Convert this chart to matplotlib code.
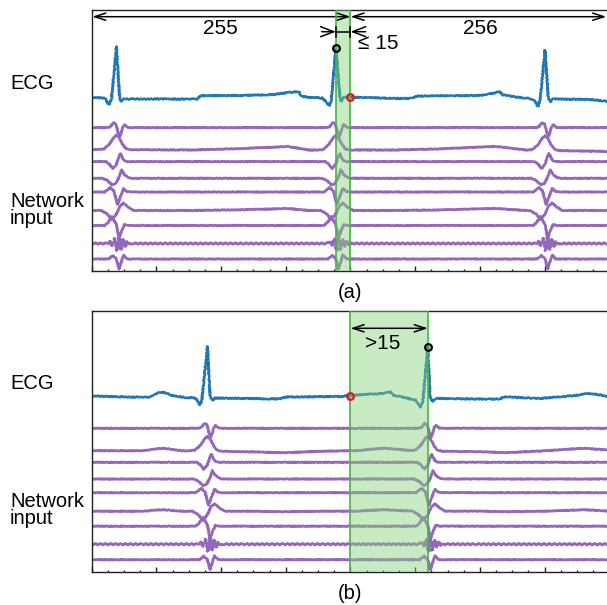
import numpy as np
import matplotlib.pyplot as plt
from matplotlib.ticker import MultipleLocator

plt.rcParams['font.family'] = ['Liberation Sans', 'DejaVu Sans']

# 512-sample window: 255 samples before the centre sample, 256 after
n_samples = 512
centre = 256

# ECG breakpoints (sample, amplitude)
ecg_a_x = [0, 13, 17, 19.5, 24.5, 27.5, 29, 32, 104, 108, 147, 181, 194, 205, 207, 216,
           228, 231, 235, 237, 241.5, 245.5, 246.5, 249.5, 305, 315, 323, 384, 399, 403, 407, 419,
           433.5, 438.5, 441.5, 443.5, 448.5, 451.5, 453.5, 456, 493, 512]
ecg_a_y = [173.5, 173, 166.3, 172, 224.5, 174, 169.7, 172, 172, 175.3, 175.5, 176.5, 178.5, 179.5, 175, 173.5,
           173, 170, 165, 171, 223, 175, 169.5, 174, 172.5, 172.5, 175, 175.5, 178, 179.5, 176, 174,
           172.5, 170, 164.5, 171, 221, 174, 169, 172, 171.5, 169.5]

ecg_b_x = [0, 38, 58, 62.5, 67.5, 72.5, 77.5, 92, 102, 105, 107, 109, 114.5, 117, 119, 122,
           186, 192, 245.5, 261.5, 290, 295.5, 298, 305, 320, 325.5, 327.7, 332.5, 334.6, 337, 340.5, 404,
           407, 419, 443.5, 483, 491, 503, 512]
ecg_b_y = [175.7, 174.7, 174.7, 177.2, 179.7, 179.2, 176.7, 174.2, 173.7, 170.7, 166.7, 171.7, 225.2, 176.7, 171.2, 173.7,
           172.7, 174.7, 175.2, 176.7, 178.4, 180, 176.2, 175, 171.7, 164.4, 171.7, 224.7, 175.7, 170, 173.2, 172.5,
           174.7, 174.4, 173.2, 176.7, 178.4, 176.7, 174.7]

# R peaks
beats_a = [24.5, 241.5, 448.5]
beats_b = [114.5, 332.5]

# highlighted windows
band_a = [241.5, 256]
band_b = [256, 332.5]

# network input channels: offset and waveform around each R peak (dt in samples)
chan_base = [143.4, 121.0, 109.4, 92.7, 79.0, 60.5, 45.5, 27.5, 12.0]
chan_dt = [
    [-9, -6, -3, -0.5, 1.5, 3.5, 6.5, 8, 11.5],
    [-18, -12.5, -7, -2.5, 0, 2.5, 6, 9.5, 14],
    [-10.5, -7, -3.5, 0, 2.5, 4, 7, 10.5],
    [-14, -9, -4.5, -1, 2.5, 5, 8, 11.5, 15],
    [-11.5, -6, -2.5, 1, 4, 7, 10.5, 14],
    [-15, -9, -4.5, 0, 3.5, 7, 11.5, 17],
    [-11.5, -8, -4.5, 0, 2.5, 5, 8, 11.5],
    [-9, -6.5, -4, -1.5, 0.5, 2.5, 4.5, 6.5, 8.5, 10.5, 13, 16],
    [-8, -3.5, 0, 2.5, 4.5, 7, 10.5],
]
chan_dy = [
    [0, 1, 5, 3.5, -4.5, -8.5, 1, 3, 0],
    [0, 0.5, 5.5, 12.5, 14.5, 12.5, 5.5, 1, 0],
    [0, -2.5, -7, -2.5, 5.5, 8, 1.5, 0],
    [0, -2, -6.5, -5.5, 1, 8.5, 3.5, 1, 0],
    [0, 4.5, 1, -12.5, -4.5, 3.5, 0.5, 0],
    [0, -3.5, -9, -3.5, 4.5, 7.5, 3.5, 0],
    [0, 3.5, 9, 1, -12.5, -5.5, 1, 0],
    [0, 2, -2, 5, -7, 7, -6, 4, -3, 2, -1, 0],
    [0, 3.5, 0, -10, -3.5, 4, 0],
]

# slow waves between beats (channels 2 and 6)
slow_a_x = [0, 100, 150, 194, 215, 300, 340, 400, 430, 512]
slow_a = {1: [0.5, 0, 1.5, 3.5, 0, 0, 1, 3.5, 0, -1.5],
          5: [0, 0, 0.8, 2, 0, 0, 0.5, 2, 0, 0]}
slow_b_x = [0, 50, 70, 90, 100, 150, 190, 230, 260, 290, 318, 345, 380, 410, 450, 487, 512]
slow_b = {1: [0, 0, 2.5, 0, 0, -1, -2, -0.5, 0, 2.5, 0, -0.5, -1, -2, 0, 2.5, 0.5],
          5: [0, 0, 1.5, 0, 0, 0, -0.5, 0, 0, 1.5, 0, 0, 0, -0.5, 0, 1.5, 0]}

blue = '#1f77b4'
purple = '#9467bd'


def channel_trace(k, beats, slow_x, slow):
    xs = [0, n_samples] + list(slow_x)
    for b in beats:
        xs += [b + d for d in chan_dt[k]]
    xs = np.unique(np.clip(xs, 0, n_samples))
    y = np.full(len(xs), chan_base[k], dtype=float)
    for b in beats:
        y += np.interp(xs, np.add(b, chan_dt[k]), chan_dy[k], left=0, right=0)
    if k in slow:
        y += np.interp(xs, slow_x, slow[k])
    return xs, y


def arrow(ax, x0, x1, y, style, hl, hw):
    ax.annotate('', xy=(x1, y), xytext=(x0, y),
                arrowprops=dict(arrowstyle=f'{style},head_length={hl},head_width={hw}',
                                color='black', lw=1.1, shrinkA=0, shrinkB=0,
                                mutation_scale=20))


def draw_panel(ax, ecg_x, ecg_y, beats, band, slow_x, slow):
    ln, = ax.plot(ecg_x, ecg_y, color=blue, lw=1.8, zorder=2)
    ln.set_sketch_params(0.6, 3, 2)
    for k in range(len(chan_base)):
        x, y = channel_trace(k, beats, slow_x, slow)
        ln, = ax.plot(x, y, color=purple, lw=2.0, zorder=2)
        if k == 7:
            ln.set_sketch_params(0.75, 5, 1.0)
        else:
            ln.set_sketch_params(0.35, 3, 2)
    ax.axvspan(band[0], band[1], color='#86d37a', alpha=0.45, lw=0, zorder=3)
    for v in band:
        ax.axvline(v, color='#4db04a', lw=1.2, zorder=4)

    peak = band[0] if band[0] in beats else band[1]
    ax.plot(centre, np.interp(centre, ecg_x, ecg_y), 'o', ms=4.8, mfc='none',
            mec='#e8141b', mew=1.6, zorder=5)
    ax.plot(peak, np.interp(peak, ecg_x, ecg_y), 'o', ms=4.8, mfc='none',
            mec='black', mew=1.6, zorder=5)

    ax.set_xlim(0, n_samples)
    ax.set_ylim(0, 261)
    ax.set_yticks([])
    ax.xaxis.set_major_locator(MultipleLocator(64))
    ax.xaxis.set_minor_locator(MultipleLocator(16))
    ax.tick_params(axis='x', which='both', direction='in', labelbottom=False,
                   color='#222222', width=1.0)
    ax.tick_params(axis='x', which='major', length=3.6)
    ax.tick_params(axis='x', which='minor', length=1.8)
    for s in ax.spines.values():
        s.set_color('#222222')
        s.set_linewidth(1.0)


fig = plt.figure(figsize=(6.07, 6.05), dpi=100)
left = 91.7 / 607
width = (609.3 - 91.7) / 607
ax_a = fig.add_axes([left, (605 - 271) / 605, width, 261 / 605])
ax_b = fig.add_axes([left, (605 - 571.7) / 605, width, 261 / 605])

draw_panel(ax_a, ecg_a_x, ecg_a_y, beats_a, band_a, slow_a_x, slow_a)
draw_panel(ax_b, ecg_b_x, ecg_b_y, beats_b, band_b, slow_b_x, slow_b)

fs = 14.5

# panel (a) annotations
arrow(ax_a, centre, 0.5, 254.3, '<->', 0.4, 0.13)
arrow(ax_a, centre, 509, 254.3, '<->', 0.4, 0.13)
ax_a.text(127.5, 242.7, '255', ha='center', va='center', fontsize=15)
ax_a.text(384, 242.7, '256', ha='center', va='center', fontsize=15)
arrow(ax_a, 227.5, band_a[0], 239.3, '->', 0.47, 0.18)
arrow(ax_a, 271, band_a[1], 239.3, '->', 0.47, 0.18)
ax_a.plot(band_a, [239.3, 239.3], color='black', lw=1.1, zorder=6)
for v in band_a:
    ax_a.plot([v, v], [234.5, 244], color='black', lw=1.1, zorder=6)
ax_a.text(263.5, 227.7, '≤ 15', ha='left', va='center', fontsize=15)

# panel (b) annotations
arrow(ax_b, band_b[0], band_b[1], 243.4, '<->', 0.4, 0.13)
ax_b.text(288, 228.4, '>15', ha='center', va='center', fontsize=15)

# row labels and captions
for off in (0, 300):
    fig.text(10 / 607, 1 - (89.3 + off) / 605, 'ECG', va='baseline', fontsize=fs)
    fig.text(10 / 607, 1 - (206.7 + off) / 605, 'Network', va='baseline', fontsize=fs)
    fig.text(10 / 607, 1 - (224.5 + off) / 605, 'input', va='baseline', fontsize=fs)
fig.text(350.4 / 607, 1 - 293 / 605, '(a)', ha='center', va='center', fontsize=fs)
fig.text(350.4 / 607, 1 - 593.4 / 605, '(b)', ha='center', va='center', fontsize=fs)

fig.savefig('out.png', dpi=100)
